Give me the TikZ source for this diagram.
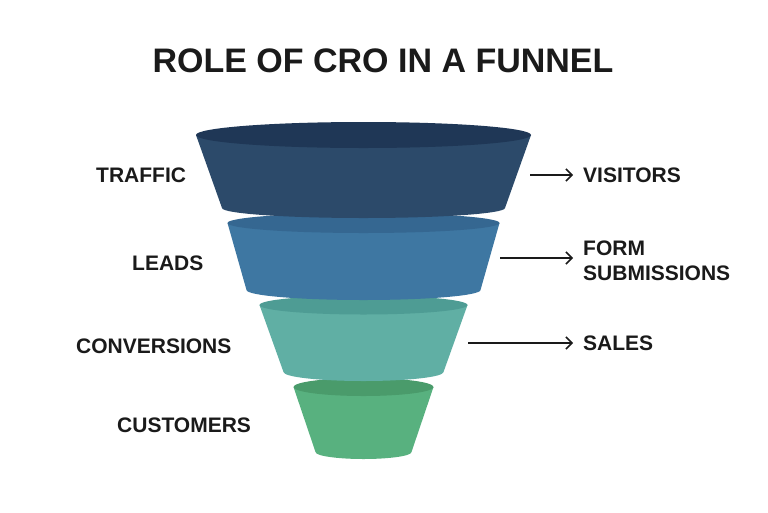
\documentclass[tikz,border=0pt]{standalone}
\usepackage{fontspec}
\setmainfont{Liberation Sans}
\usetikzlibrary{arrows.meta}
\definecolor{ink}{HTML}{1A1A1A}
\definecolor{sAtop}{HTML}{1F3756}
\definecolor{sAbody}{HTML}{2C4A6A}
\definecolor{sBtop}{HTML}{356791}
\definecolor{sBbody}{HTML}{3E77A2}
\definecolor{sCtop}{HTML}{4E9C94}
\definecolor{sCbody}{HTML}{60AFA4}
\definecolor{sDtop}{HTML}{4A9B6B}
\definecolor{sDbody}{HTML}{58B17F}
% #1 top y, #2 top rx, #3 top ry, #4 bottom y, #5 bottom rx, #6 bottom ry, #7 body colour, #8 top colour
\newcommand{\funnelseg}[8]{%
  \fill[#7] (363.5-#2,-#1) -- (363.5-#5,-#4)
    arc[start angle=180,end angle=360,x radius=#5pt,y radius=#6pt]
    -- (363.5+#2,-#1) -- cycle;
  \fill[#8] (363.5,-#1) ellipse[x radius=#2pt,y radius=#3pt];
}
\begin{document}
\begin{tikzpicture}[x=1pt,y=1pt,
  lbl/.style={font=\bfseries\fontsize{21}{25}\selectfont, text=ink, inner sep=0pt, anchor=west},
  arr/.style={-{Straight Barb[length=6pt,width=12pt]}, line width=1.5pt, draw=ink, shorten >=10pt}]
\useasboundingbox (0,0) rectangle (768,-512);
\fill[white] (0,0) rectangle (768,-512);
\node[font=\bfseries\fontsize{34}{40}\selectfont, text=ink, inner sep=0pt] (title) at (383,-61) {ROLE OF CRO IN A FUNNEL};
% funnel, bottom segment first
\funnelseg{387}{70}{9}{452}{48}{7}{sDbody}{sDtop}
\funnelseg{305}{104}{9.5}{372}{80}{9}{sCbody}{sCtop}
\funnelseg{223}{136}{10}{290}{117}{10}{sBbody}{sBtop}
\funnelseg{135}{167.5}{13}{208}{141.5}{10}{sAbody}{sAtop}
% left labels
\node[lbl] (traffic) at (96,-175) {TRAFFIC};
\node[lbl] (leads) at (132,-263) {LEADS};
\node[lbl] (conv) at (76,-346) {CONVERSIONS};
\node[lbl] (cust) at (117,-425) {CUSTOMERS};
% right labels
\node[lbl] (vis) at (583,-175) {VISITORS};
\node[lbl, align=left] (form) at (583,-260.5) {FORM\\SUBMISSIONS};
\node[lbl] (sales) at (583,-343) {SALES};
% arrows
\coordinate (a1) at (530,-175);
\coordinate (a2) at (500,-258);
\coordinate (a3) at (468,-343);
\draw[arr] (a1) -- (a1 -| vis.west);
\draw[arr] (a2) -- (a2 -| form.west);
\draw[arr] (a3) -- (a3 -| sales.west);
\end{tikzpicture}
\end{document}
